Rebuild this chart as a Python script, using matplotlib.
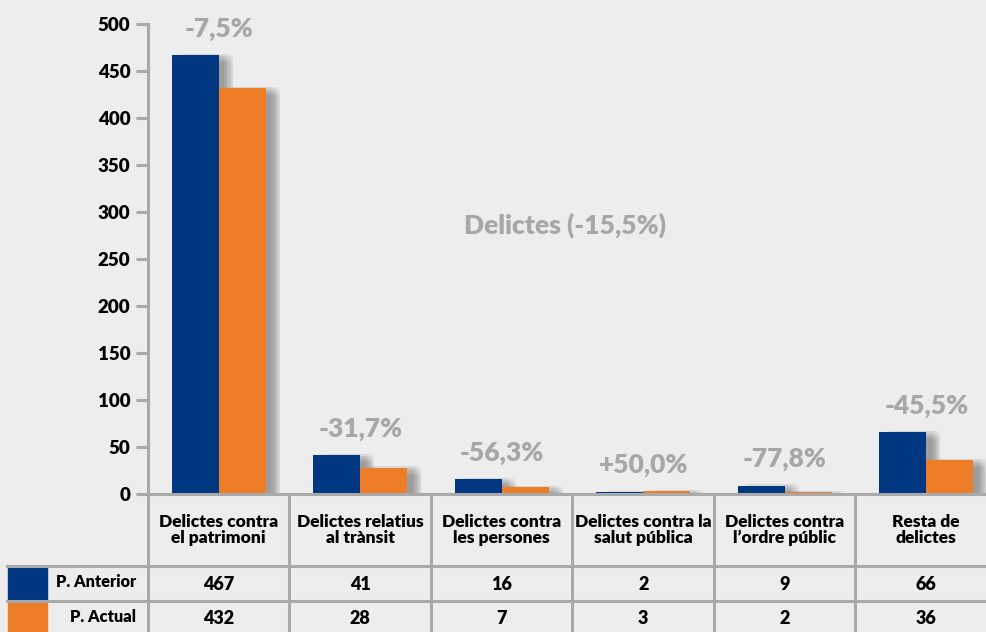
import matplotlib
matplotlib.use("Agg")
import matplotlib.pyplot as plt
import matplotlib.patheffects as pe
from matplotlib.lines import Line2D
from matplotlib.patches import Rectangle
from matplotlib.transforms import blended_transform_factory
import numpy as np

plt.rcParams['font.family'] = ['Lato', 'DejaVu Sans']

categories = ["Delictes contra\nel patrimoni", "Delictes relatius\nal trànsit",
              "Delictes contra\nles persones", "Delictes contra la\nsalut pública",
              "Delictes contra\nl\u2019ordre públic", "Resta de\ndelictes"]
anterior = [467, 41, 16, 2, 9, 66]
actual = [432, 28, 7, 3, 2, 36]
changes = ["-7,5%", "-31,7%", "-56,3%", "+50,0%", "-77,8%", "-45,5%"]
series_names = ["P. Anterior", "P. Actual"]
title = "Delictes (-15,5%)"

BG = '#ECEDEC'
BLUE = '#003781'
ORANGE = '#EE7D28'
GRID = '#A9A9A9'
PCT = '#A7A7A7'

W, H = 987, 632
fig = plt.figure(figsize=(W / 100, H / 100), dpi=100, facecolor=BG)

# axes: x from 148px to right edge, y 0 at 494px, 500 at 24px
col_px = 141.5
ax = fig.add_axes([148 / W, (H - 494) / H, (W - 148) / W, 470 / H])
ax.set_facecolor(BG)

x = np.arange(len(categories))
bw = 0.333

def shadow():
    # soft grey drop shadow made of several faint offset copies
    effects = []
    for dx in (-3, -1.5, 0, 1.5, 3):
        for dy in (-3, -1.5, 0, 1.5, 3):
            effects.append(pe.SimplePatchShadow(offset=(7 + dx, -2 + dy),
                                                shadow_rgbFace='#808080', alpha=0.045))
    effects.append(pe.Normal())
    return effects

ax.bar(x - bw / 2, anterior, bw, color=BLUE, zorder=2, path_effects=shadow())
ax.bar(x + bw / 2, actual, bw, color=ORANGE, zorder=3, path_effects=shadow())

for i, txt in enumerate(changes):
    top = max(anterior[i], actual[i])
    ax.annotate(txt, (x[i], top), xytext=(0, 19), textcoords='offset points',
                ha='center', va='center', fontsize=19, fontweight='heavy', color=PCT)

fig.text(565 / W, 1 - 225 / H, title, ha='center', va='center',
         fontsize=19, fontweight='heavy', color=PCT)

ax.set_xlim(-0.5, -0.5 + (W - 148) / col_px)
ax.set_ylim(0, 500)
ax.set_yticks(range(0, 501, 50))
ax.set_xticks([])
for s in ['top', 'right', 'bottom']:
    ax.spines[s].set_visible(False)
ax.spines['left'].set_color(GRID)
ax.spines['left'].set_linewidth(2.2)
ax.tick_params(axis='y', length=8.6, width=2.2, color=GRID, pad=4,
               labelsize=13.5, labelcolor='black')
for lab in ax.get_yticklabels():
    lab.set_fontweight('heavy')

# table below the axes
tr = blended_transform_factory(ax.transData, fig.dpi_scale_trans)
pix = fig.dpi_scale_trans

def py(ypx):
    return (H - ypx) / 100

lw = 2.2
right = -0.5 + (W - 148) / col_px + 0.2
fig.add_artist(Line2D([-0.5, right], [py(494), py(494)], transform=tr, color=GRID, lw=lw))
for ypx in (566, 601):
    fig.add_artist(Line2D([0.07, 1.48], [py(ypx), py(ypx)], transform=pix, color=GRID, lw=lw))
    fig.add_artist(Line2D([-0.5, right], [py(ypx), py(ypx)], transform=tr, color=GRID, lw=lw))
for i in range(len(categories) + 1):
    fig.add_artist(Line2D([i - 0.5, i - 0.5], [py(494), py(H + 5)], transform=tr, color=GRID, lw=lw))

for i, cat in enumerate(categories):
    fig.text(x[i], py(530), cat, transform=tr, ha='center', va='center',
             fontsize=12.5, fontweight='heavy', linespacing=1.0, color='black')
    fig.text(x[i], py(584), str(anterior[i]), transform=tr, ha='center', va='center',
             fontsize=13, fontweight='heavy', color='black')
    fig.text(x[i], py(618), str(actual[i]), transform=tr, ha='center', va='center',
             fontsize=13, fontweight='heavy', color='black')

# legend cells of the table
fig.add_artist(Rectangle((0.08, py(600)), 0.39, (600 - 568) / 100, transform=pix, color=BLUE))
fig.add_artist(Rectangle((0.08, py(640)), 0.39, (640 - 603) / 100, transform=pix, color=ORANGE))
fig.text(1.36, py(582), series_names[0], transform=pix, ha='right', va='center',
         fontsize=11.8, fontweight='heavy', color='black')
fig.text(1.36, py(617), series_names[1], transform=pix, ha='right', va='center',
         fontsize=11.8, fontweight='heavy', color='black')

fig.savefig('out.png', dpi=100, facecolor=BG)
